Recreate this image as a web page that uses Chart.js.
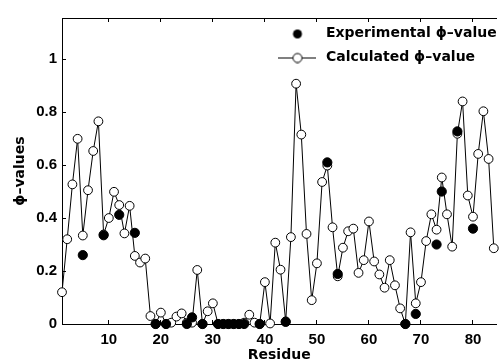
<!DOCTYPE html>
<html>
<head>
<meta charset="utf-8">
<script src="https://cdn.jsdelivr.net/npm/chart.js@4/dist/chart.umd.min.js"></script>
<style>
  html, body { margin: 0; padding: 0; background: #ffffff; }
  #wrap { width: 502px; height: 364px; }
</style>
</head>
<body>
<div id="wrap"><canvas id="c" width="502" height="364"></canvas></div>
<script>
// ---- Data ----
const residues = [1,2,3,4,5,6,7,8,9,10,11,12,13,14,15,16,17,18,19,20,21,22,23,24,25,26,27,28,29,30,
  31,32,33,34,35,36,37,38,39,40,41,42,43,44,45,46,47,48,49,50,51,52,53,54,55,56,57,58,59,60,
  61,62,63,64,65,66,67,68,69,70,71,72,73,74,75,76,77,78,79,80,81,82,83,84];
const calcValues = [0.12,0.32,0.527,0.699,0.334,0.505,0.653,0.765,0.338,0.40,
  0.499,0.449,0.342,0.446,0.257,0.232,0.247,0.03,0.0,0.043,
  0.0,0.005,0.028,0.04,0.005,0.005,0.204,0.0,0.048,0.078,
  0.0,0.0,0.0,0.0,0.0,0.005,0.035,0.005,0.0,0.158,
  0.002,0.307,0.205,0.01,0.328,0.907,0.715,0.34,0.09,0.229,
  0.536,0.598,0.365,0.18,0.288,0.35,0.36,0.193,0.241,0.387,
  0.236,0.187,0.137,0.241,0.146,0.059,0.0,0.346,0.078,0.158,
  0.313,0.414,0.356,0.553,0.414,0.292,0.718,0.84,0.485,0.405,
  0.642,0.803,0.623,0.286];
const expResidues = [5,9,12,15,19,21,25,26,28,31,32,33,34,35,36,39,44,52,54,67,69,73,74,77,80];
const expValues = [0.26,0.335,0.412,0.344,0,0,0,0.025,0,0,0,0,0,0,0,0,0.008,0.61,0.189,0,0.038,0.30,0.50,0.727,0.36];

const xTicks = [10,20,30,40,50,60,70,80];
const yTicks = [0,0.2,0.4,0.6,0.8,1];
const yTickLabels = ['0','0.2','0.4','0.6','0.8','1'];
const seriesNames = ['Experimental \u03d5\u2013value', 'Calculated \u03d5\u2013value'];
const xTitle = 'Residue';
const yTitle = '\u03d5\u2013values';

// ---- Legend symbols ----
function makeSymbol(withLine, filled) {
  const cv = document.createElement('canvas');
  cv.width = 38; cv.height = 12;
  const g = cv.getContext('2d');
  if (withLine) {
    g.strokeStyle = '#000'; g.lineWidth = 1;
    g.beginPath(); g.moveTo(0, 6.5); g.lineTo(38, 6.5); g.stroke();
  }
  g.beginPath(); g.arc(20, 6.5, 4.5, 0, Math.PI * 2);
  if (filled) { g.fillStyle = '#000'; g.fill(); }
  else { g.fillStyle = '#fff'; g.fill(); g.strokeStyle = '#000'; g.lineWidth = 1; g.stroke(); }
  return cv;
}
const legendSymbols = [makeSymbol(false, true), makeSymbol(true, false)];

const tickFont = { family: '"Liberation Sans", Arial, sans-serif', size: 15, weight: 'bold' };
const titleFont = { family: '"DejaVu Sans", sans-serif', size: 14, weight: 'bold' };

const legendMover = {
  id: 'legendMover',
  afterLayout(chart) {
    const lg = chart.legend;
    if (!lg) return;
    lg.left = 264;
    lg.top = 16.5;
  }
};

new Chart(document.getElementById('c'), {
  type: 'line',
  data: {
    datasets: [
      {
        label: seriesNames[0],
        data: expResidues.map((r, i) => ({ x: r, y: expValues[i] })),
        showLine: false,
        pointRadius: 4.6,
        pointBackgroundColor: '#000',
        pointBorderColor: '#000',
        pointBorderWidth: 1,
        order: 0,
        clip: false
      },
      {
        label: seriesNames[1],
        data: residues.map((r, i) => ({ x: r, y: calcValues[i] })),
        borderColor: '#000',
        borderWidth: 1,
        tension: 0,
        pointRadius: 4.4,
        pointBackgroundColor: '#fff',
        pointBorderColor: '#000',
        pointBorderWidth: 1,
        order: 1,
        clip: false
      }
    ]
  },
  options: {
    responsive: false,
    animation: false,
    devicePixelRatio: 1,
    layout: { padding: { top: 13, right: 0, bottom: 0, left: 0 } },
    plugins: {
      tooltip: { enabled: false },
      legend: {
        position: 'chartArea',
        align: 'start',
        labels: {
          usePointStyle: true,
          pointStyleWidth: 45,
          padding: 10,
          color: '#000',
          font: titleFont,
          generateLabels: (chart) => chart.data.datasets.map((ds, i) => ({
            text: ds.label,
            pointStyle: legendSymbols[i],
            fillStyle: '#000',
            strokeStyle: '#000',
            lineWidth: 0,
            hidden: false,
            datasetIndex: i,
            fontColor: '#000'
          }))
        }
      }
    },
    scales: {
      x: {
        type: 'linear',
        position: 'bottom',
        min: 1,
        max: 84.5,
        afterBuildTicks: (s) => { s.ticks = xTicks.map(v => ({ value: v })); },
        afterFit: (s) => { s.height = 40; },
        ticks: { color: '#000', font: tickFont, padding: 11, maxRotation: 0, callback: (v) => String(v) },
        grid: { drawOnChartArea: false, drawTicks: true, tickLength: -4, color: '#000', tickColor: '#000' },
        border: { display: true, color: '#000', width: 1 },
        title: { display: true, text: xTitle, color: '#000', font: titleFont, padding: { top: 0, bottom: 0 } }
      },
      x2: {
        type: 'linear',
        position: 'top',
        min: 1,
        max: 84.5,
        afterBuildTicks: (s) => { s.ticks = xTicks.map(v => ({ value: v })); },
        afterFit: (s) => { s.height = 0; },
        ticks: { display: false },
        grid: { drawOnChartArea: false, drawTicks: true, tickLength: -4, color: '#000', tickColor: '#000' },
        border: { display: true, color: '#000', width: 1 }
      },
      y: {
        type: 'linear',
        position: 'left',
        min: 0,
        max: 1.155,
        afterBuildTicks: (s) => { s.ticks = yTicks.map(v => ({ value: v })); },
        afterFit: (s) => { s.width = 62; },
        ticks: {
          color: '#000', font: tickFont, padding: 9,
          callback: (v, i) => yTickLabels[i]
        },
        grid: { drawOnChartArea: false, drawTicks: true, tickLength: -4, color: '#000', tickColor: '#000' },
        border: { display: true, color: '#000', width: 1 },
        title: { display: true, text: yTitle, color: '#000', font: titleFont, padding: { top: 12, bottom: 0 } }
      }
    }
  },
  plugins: [legendMover]
});
</script>
</body>
</html>
